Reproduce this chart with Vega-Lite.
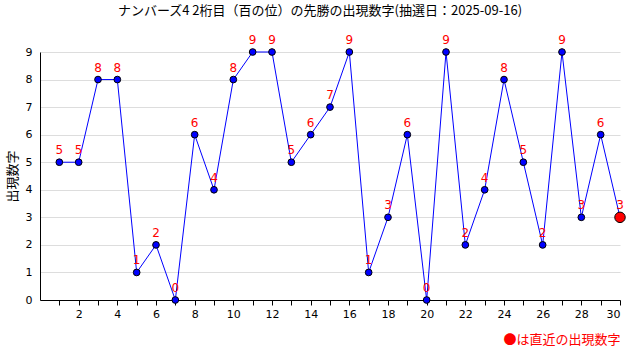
{
  "$schema": "https://vega.github.io/schema/vega-lite/v6.json",
  "width": 580,
  "height": 248,
  "autosize": "none",
  "padding": {"left": 40, "top": 52, "right": 20, "bottom": 60},
  "background": "white",
  "title": {
    "text": "ナンバーズ4 2桁目（百の位）の先勝の出現数字(抽選日：2025-09-16)",
    "font": "Noto Sans CJK JP",
    "fontSize": 13,
    "fontWeight": "normal",
    "color": "black",
    "anchor": "middle",
    "offset": 16,
    "dx": -10
  },
  "data": {
    "values": [
      {"n": 1, "v": 5, "latest": "no"},
      {"n": 2, "v": 5, "latest": "no"},
      {"n": 3, "v": 8, "latest": "no"},
      {"n": 4, "v": 8, "latest": "no"},
      {"n": 5, "v": 1, "latest": "no"},
      {"n": 6, "v": 2, "latest": "no"},
      {"n": 7, "v": 0, "latest": "no"},
      {"n": 8, "v": 6, "latest": "no"},
      {"n": 9, "v": 4, "latest": "no"},
      {"n": 10, "v": 8, "latest": "no"},
      {"n": 11, "v": 9, "latest": "no"},
      {"n": 12, "v": 9, "latest": "no"},
      {"n": 13, "v": 5, "latest": "no"},
      {"n": 14, "v": 6, "latest": "no"},
      {"n": 15, "v": 7, "latest": "no"},
      {"n": 16, "v": 9, "latest": "no"},
      {"n": 17, "v": 1, "latest": "no"},
      {"n": 18, "v": 3, "latest": "no"},
      {"n": 19, "v": 6, "latest": "no"},
      {"n": 20, "v": 0, "latest": "no"},
      {"n": 21, "v": 9, "latest": "no"},
      {"n": 22, "v": 2, "latest": "no"},
      {"n": 23, "v": 4, "latest": "no"},
      {"n": 24, "v": 8, "latest": "no"},
      {"n": 25, "v": 5, "latest": "no"},
      {"n": 26, "v": 2, "latest": "no"},
      {"n": 27, "v": 9, "latest": "no"},
      {"n": 28, "v": 3, "latest": "no"},
      {"n": 29, "v": 6, "latest": "no"},
      {"n": 30, "v": 3, "latest": "yes"}
    ]
  },
  "config": {
    "view": {"stroke": null},
    "axis": {
      "labelFont": "DejaVu Sans",
      "labelFontSize": 11,
      "labelColor": "black",
      "domainColor": "black",
      "tickColor": "black",
      "titleFont": "Noto Sans CJK JP",
      "titleFontWeight": "normal",
      "titleColor": "black"
    }
  },
  "encoding": {
    "x": {
      "field": "n",
      "type": "quantitative",
      "scale": {"domain": [0, 30], "nice": false, "zero": false},
      "axis": {
        "values": [1,2,3,4,5,6,7,8,9,10,11,12,13,14,15,16,17,18,19,20,21,22,23,24,25,26,27,28,29,30],
        "labelExpr": "datum.value % 2 == 0 ? datum.label : ''",
        "grid": false,
        "tickSize": 5,
        "labelPadding": 3,
        "title": "●は直近の出現数字",
        "titleColor": "red",
        "titleFontSize": 13,
        "titleAnchor": "end",
        "titlePadding": 14
      }
    },
    "y": {
      "field": "v",
      "type": "quantitative",
      "scale": {"domain": [0, 9], "nice": false},
      "axis": {
        "values": [0,1,2,3,4,5,6,7,8,9],
        "grid": true,
        "gridColor": "#dddddd",
        "tickSize": 0,
        "labelPadding": 8,
        "title": "出現数字",
        "titleFontSize": 13,
        "titlePadding": 6
      }
    }
  },
  "layer": [
    {"mark": {"type": "line", "color": "blue", "strokeWidth": 1}},
    {
      "mark": {"type": "point", "filled": true, "stroke": "black", "strokeWidth": 1, "opacity": 1},
      "encoding": {
        "fill": {"field": "latest", "type": "nominal", "scale": {"domain": ["no", "yes"], "range": ["blue", "red"]}, "legend": null},
        "size": {"field": "latest", "type": "nominal", "scale": {"domain": ["no", "yes"], "range": [45, 110]}, "legend": null}
      }
    },
    {
      "mark": {"type": "text", "color": "red", "dy": -12, "font": "DejaVu Sans", "fontSize": 12},
      "encoding": {"text": {"field": "v", "type": "quantitative"}}
    }
  ]
}
